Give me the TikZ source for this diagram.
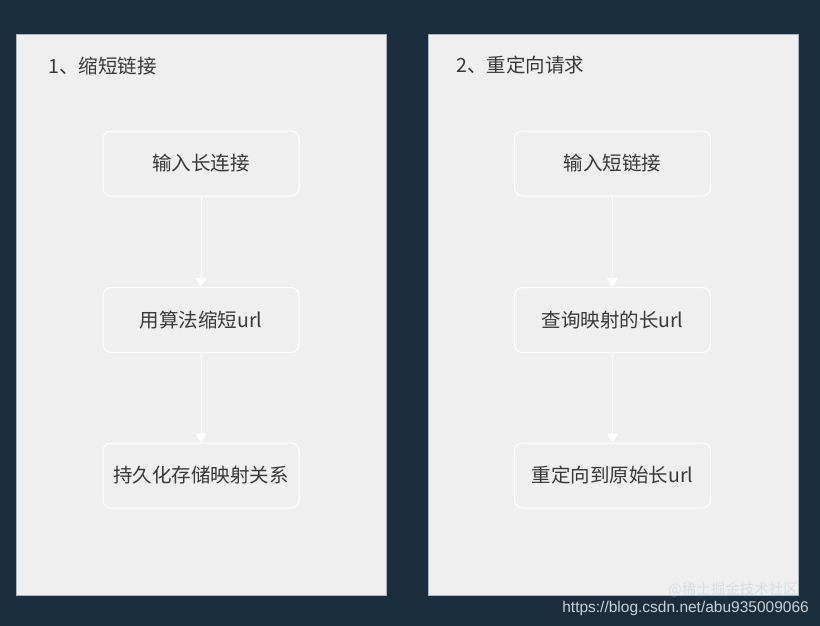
\documentclass[tikz,border=0pt]{standalone}
\usepackage{fontspec}
\setmainfont{Noto Sans CJK SC}
\newfontfamily\urlfont{Liberation Sans}
\usetikzlibrary{arrows.meta,positioning}
\definecolor{bgblue}{HTML}{1B2E3D}
\definecolor{panelgray}{HTML}{EFEFEF}
\definecolor{panelline}{HTML}{A9B6C2}
\definecolor{textgray}{HTML}{383838}
\definecolor{markgray}{HTML}{C9D1D8}
\tikzset{
  stepbox/.style={draw=white,line width=1pt,rounded corners=8pt,fill=panelgray,
    minimum width=196pt,minimum height=65pt,inner sep=0pt,
    font=\fontsize{19.5}{21}\selectfont,text=textgray},
  flow/.style={draw=white,line width=1pt,-{Triangle[open,fill=white,length=9pt,width=11pt]}},
  paneltitle/.style={anchor=west,inner sep=0pt,font=\fontsize{19.5}{21}\selectfont,text=textgray}
}
\begin{document}
\begin{tikzpicture}[x=1pt,y=-1pt]
\fill [bgblue] (0,0) rectangle (820,626);
\useasboundingbox (0,0) rectangle (820,626);
% panels
\filldraw [fill=panelgray,draw=panelline,line width=.8pt] (16,34) rectangle (386,595);
\filldraw [fill=panelgray,draw=panelline,line width=.8pt] (428,34) rectangle (798,595);
\node [paneltitle] (shorttitle) at (48,66) {1、缩短链接};
\node [paneltitle] (redirtitle) at (456,65) {2、重定向请求};
% left flow
\node [stepbox] (longurl) at (201,163.5) {输入长连接};
\node [stepbox] (hashurl) at (201,320) {用算法缩短url};
\node [stepbox] (saveurl) at (201,475.5) {持久化存储映射关系};
\draw [flow] (longurl) -- (hashurl);
\draw [flow] (hashurl) -- (saveurl);
% right flow
\node [stepbox] (shorturl) at (612.5,163.5) {输入短链接};
\node [stepbox] (lookurl) at (612.5,320) {查询映射的长url};
\node [stepbox] (gourl) at (612.5,475.5) {重定向到原始长url};
\draw [flow] (shorturl) -- (lookurl);
\draw [flow] (lookurl) -- (gourl);
% watermark
\node [anchor=east,inner sep=0pt,text=markgray,opacity=.6,font=\fontsize{14.5}{15}\selectfont] (juejin) at (798,590) {@稀土掘金技术社区};
\node [anchor=east,inner sep=0pt,text=markgray,font=\urlfont\fontsize{15.5}{16}\selectfont] (csdn) at (809,608) {https://blog.csdn.net/abu935009066};
\end{tikzpicture}
\end{document}
